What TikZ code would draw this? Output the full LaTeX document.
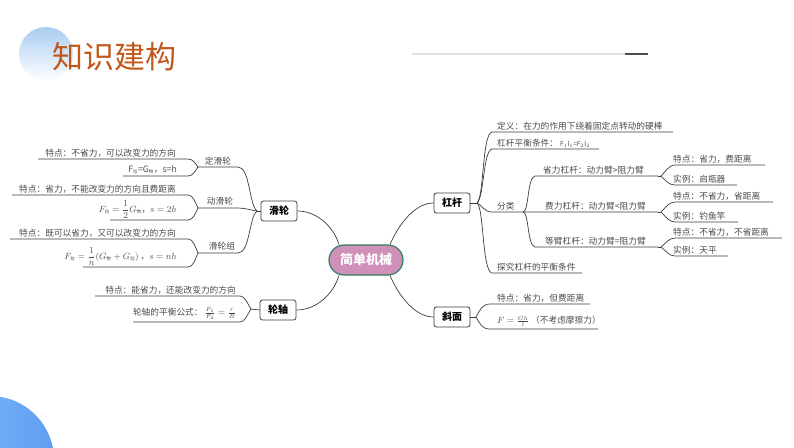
\documentclass[tikz,border=0pt]{standalone}
\usepackage{amsmath}
\usepackage{fontspec}
\setmainfont{Noto Sans CJK SC}
\definecolor{txtgray}{HTML}{4A4A4A}
\definecolor{linegray}{HTML}{3C3C3C}
\definecolor{titleor}{HTML}{C0581C}
\definecolor{centfill}{HTML}{CF90BA}
\definecolor{centdraw}{HTML}{2F7F5A}
\definecolor{circtop}{HTML}{A9CDF2}
\definecolor{bltop}{HTML}{86C3FF}
\definecolor{blbot}{HTML}{5F9DF0}
\newcommand{\sbt}[1]{\mbox{\fontsize{4.5}{5}\selectfont #1}}
\tikzset{
  lbl/.style={font=\fontsize{8.7}{9}\selectfont, text=txtgray, inner sep=0pt},
  conn/.style={draw=linegray, line width=0.7pt},
  topic/.style={draw=linegray, line width=0.8pt, rounded corners=2.5pt, fill=white,
    minimum width=36pt, minimum height=20pt, inner sep=0pt,
    font=\fontsize{10}{10}\selectfont\bfseries, text=black},
  central/.style={draw=centdraw, line width=1.2pt, rounded corners=15pt, fill=centfill,
    minimum width=74pt, minimum height=30pt, inner sep=0pt,
    font=\fontsize{13}{13}\selectfont\bfseries, text=white}
}
\begin{document}
\begin{tikzpicture}[x=1pt,y=-1pt]
\useasboundingbox (0,0) rectangle (794,447);
\begin{scope}
\clip (0,0) rectangle (794,447);
% decorations
\shade[top color=circtop, bottom color=white] (46,54) circle (27);
\shade[left color=bltop, right color=blbot] (-10,460) circle (64);
\end{scope}
\node[anchor=west, inner sep=0pt, font=\fontsize{31}{31}\selectfont, text=titleor] (title) at (52,57) {知识建构};
\draw[line width=1.5pt, draw=black!12] (412,54) -- (625,54);
\draw[line width=2.5pt, draw=black!70] (625,54) -- (648,54);

% central and topics
\node[central] (c) at (366,260) {简单机械};
\node[topic] (hl) at (279,211) {滑轮};
\node[topic] (lz) at (278,310) {轮轴};
\node[topic] (gg) at (452,203) {杠杆};
\node[topic] (xm) at (452,317) {斜面};

\draw[conn] (hl.east) .. controls (318,211) and (334,228) .. ([xshift=-27pt]c.north);
\draw[conn] (lz.east) .. controls (318,310) and (334,292) .. ([xshift=-27pt]c.south);
\draw[conn] (gg.west) .. controls (414,203) and (398,226) .. ([xshift=24pt]c.north);
\draw[conn] (xm.west) .. controls (414,317) and (398,294) .. ([xshift=24pt]c.south);

% ---------- 滑轮 ----------
\coordinate (hlr) at (257,211);
\draw[conn] (hl.west) -- (hlr);
\coordinate (dhv) at (198,167);
\coordinate (ddv) at (198,208);
\coordinate (zuv) at (198,253);
\draw[conn] (hlr) .. controls (249,205) and (250,167) .. (238,167) -- (dhv);
\draw[conn] (hlr) .. controls (250,210) and (245,208) .. (238,208) -- (ddv);
\draw[conn] (hlr) .. controls (249,217) and (250,253) .. (238,253) -- (zuv);
\node[lbl] (dh) at (218,161) {定滑轮};
\node[lbl] (dd) at (220,201) {动滑轮};
\node[lbl] (zu) at (222,246) {滑轮组};

\draw[conn] (38,159) -- (188,159) .. controls (193,159) and (195,163) .. (dhv)
  .. controls (195,171) and (193,176) .. (188,176) -- (123,176);
\node[lbl, anchor=south east] (dh1) at (176,157.5) {特点：不省力，可以改变力的方向};
\node[lbl, anchor=south east] (dh2) at (177,174.5) {F$_{\sbt{拉}}$=G$_{\sbt{物}}$，s=h};

\draw[conn] (12,195) -- (188,195) .. controls (193,195) and (195,202) .. (ddv)
  .. controls (195,214) and (193,220) .. (188,220) -- (110,220);
\node[lbl, anchor=south east] (dd1) at (176,193.5) {特点：省力，不能改变力的方向且费距离};
\node[lbl, anchor=south east] (dd2) at (177,218.5) {$F_{\sbt{拉}}=\dfrac{1}{2}G_{\sbt{物}}$，$s=2h$};

\draw[conn] (10,239) -- (188,239) .. controls (193,239) and (195,246) .. (zuv)
  .. controls (195,260) and (193,267) .. (188,267) -- (83,267);
\node[lbl, anchor=south east] (zu1) at (176,237.5) {特点：既可以省力，又可以改变力的方向};
\node[lbl, anchor=south east] (zu2) at (177,265.5) {$F_{\sbt{拉}}=\dfrac{1}{n}(G_{\sbt{物}}+G_{\sbt{动}})$ ，$s=nh$};

% ---------- 轮轴 ----------
\coordinate (lzv) at (251,309);
\draw[conn] (lz.west) -- (lzv);
\draw[conn] (95,296) -- (240,296) .. controls (245,296) and (247,303) .. (lzv)
  .. controls (247,315) and (245,322) .. (240,322) -- (133,322);
\node[lbl, anchor=south east] (lz1) at (236,294.5) {特点：能省力，还能改变力的方向};
\node[lbl, anchor=south east] (lz2) at (236,320) {轮轴的平衡公式：\ $\frac{F_1}{F_2}=\frac{r}{R}$};

% ---------- 杠杆 ----------
\coordinate (ggr) at (477,203);
\draw[conn] (gg.east) -- (ggr);
\draw[conn] (ggr) .. controls (484,198) and (482,134) .. (492,132) -- (673,132);
\draw[conn] (ggr) .. controls (484,198) and (483,151) .. (492,149) -- (599,149);
\draw[conn] (ggr) .. controls (482,205) and (484,212) .. (492,212) -- (658,212);
\draw[conn] (ggr) .. controls (484,208) and (482,271) .. (492,273) -- (582,273);
\node[lbl, anchor=south west] (def) at (497,130) {定义：在力的作用下绕着固定点转动的硬棒};
\node[lbl, anchor=south west] (cond) at (497,147.5) {杠杆平衡条件：\ {\fontsize{6.5}{7}\selectfont F$_1$l$_1$=F$_2$l$_2$}};
\node[lbl, anchor=south west] (fl) at (497,210.5) {分类};
\node[lbl, anchor=south west] (tj) at (497,271.5) {探究杠杆的平衡条件};

\coordinate (flr) at (523,212);
\draw[conn] (flr) .. controls (529,212) and (527,178) .. (535,176) -- (658,176);
\draw[conn] (flr) .. controls (529,212) and (527,245) .. (535,247) -- (658,247);
\node[lbl, anchor=south west] (sl) at (543,174.5) {省力杠杆：动力臂>阻力臂};
\node[lbl, anchor=south west] (fe) at (545,210.5) {费力杠杆：动力臂<阻力臂};
\node[lbl, anchor=south west] (db) at (545,245.5) {等臂杠杆：动力臂=阻力臂};

\coordinate (slv) at (661,176);
\coordinate (fev) at (661,212);
\coordinate (dbv) at (661,247);
\draw[conn] (658,176) -- (slv);
\draw[conn] (658,212) -- (fev);
\draw[conn] (658,247) -- (dbv);
\draw[conn] (765,165) -- (675,165) .. controls (669,165) and (666,171) .. (slv)
  .. controls (666,181) and (669,185) .. (675,185) -- (737,185);
\draw[conn] (773,202) -- (675,202) .. controls (669,202) and (666,207) .. (fev)
  .. controls (666,217) and (669,222) .. (675,222) -- (738,222);
\draw[conn] (782,238) -- (675,238) .. controls (669,238) and (666,243) .. (dbv)
  .. controls (666,251) and (669,256) .. (675,256) -- (728,256);
\node[lbl, anchor=south west] (sl1) at (673,163.5) {特点：省力，费距离};
\node[lbl, anchor=south west] (sl2) at (673,183.5) {实例：启瓶器};
\node[lbl, anchor=south west] (fe1) at (673,200.5) {特点：不省力，省距离};
\node[lbl, anchor=south west] (fe2) at (673,220.5) {实例：钓鱼竿};
\node[lbl, anchor=south west] (db1) at (673,236.5) {特点：不省力，不省距离};
\node[lbl, anchor=south west] (db2) at (673,254.5) {实例：天平};

% ---------- 斜面 ----------
\coordinate (xmr) at (476,317);
\draw[conn] (xm.east) -- (xmr);
\draw[conn] (xmr) .. controls (480,310) and (482,304) .. (490,304) -- (590,304);
\draw[conn] (xmr) .. controls (480,324) and (482,329) .. (490,329) -- (598,329);
\node[lbl, anchor=south west] (xm1) at (497,302.5) {特点：省力，但费距离};
\node[lbl, anchor=south west] (xm2) at (497,327) {$F=\frac{Gh}{l}$ （不考虑摩擦力）};
\end{tikzpicture}
\end{document}
